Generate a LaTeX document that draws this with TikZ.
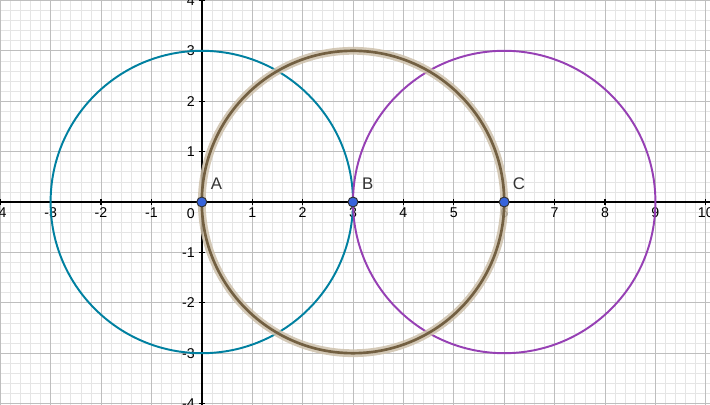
\documentclass[tikz,border=0pt]{standalone}
\usepackage{fontspec}
\setmainfont{Liberation Sans}
\usetikzlibrary{positioning}
\usepackage{xcolor}

\definecolor{gridminor}{RGB}{229,229,229}
\definecolor{gridmajor}{RGB}{190,190,190}
\definecolor{circteal}{RGB}{0,128,160}
\definecolor{circpurple}{RGB}{150,64,180}
\definecolor{circbrown}{RGB}{115,96,66}
\definecolor{circhalo}{RGB}{205,192,170}
\definecolor{ptblue}{RGB}{55,100,220}

\begin{document}
\begin{tikzpicture}[x=1cm, y=1cm, font=\fontsize{8}{9}\selectfont]
\tikzset{
  pt/.style={circle, draw=black!80, line width=0.55pt, fill=ptblue, inner sep=0pt, minimum size=5.6pt},
  ptlabel/.style={font=\fontsize{9.5}{11}\selectfont, text=black!80},
  ticklab/.style={inner sep=1pt, text=black}
}
\useasboundingbox (-4.004,-4.008) rectangle (10.083,4.008);
\clip (-4.004,-4.008) rectangle (10.083,4.008);

% Grid
\draw[gridminor, line width=0.35pt, step=0.2] (-4.2,-4.2) grid (10.2,4.2);
\draw[gridmajor, line width=0.45pt, step=1] (-4.2,-4.2) grid (10.2,4.2);

% Axes
\draw[black, line width=0.8pt] (-4.1,0) -- (10.2,0);
\draw[black, line width=0.8pt] (0,-4.1) -- (0,4.1);

% x ticks and labels
\foreach \x in {-4,-3,-2,-1,1,2,3,4,5,6,7,8,9,10} {
    \draw[black, line width=0.6pt] (\x,-0.06) -- (\x,0.06);
    \node[ticklab, below] (xl\x) at (\x,-0.07) {\x};
}
% y ticks and labels
\foreach \y in {-4,-3,-2,-1,1,2,3,4} {
    \draw[black, line width=0.6pt] (-0.06,\y) -- (0.06,\y);
    \node[ticklab, left] (yl\y) at (-0.1,\y) {\y};
}
\node[ticklab] (origin) at (-0.22,-0.24) {0};

% Points
\coordinate (A) at (0,0);
\coordinate (B) at (3,0);
\coordinate (C) at (6,0);

% Circles
\draw[circteal, line width=1.1pt] (A) circle[radius=3];
\draw[circpurple, line width=1.1pt] (C) circle[radius=3];
\draw[circhalo, opacity=0.85, line width=4.4pt] (B) circle[radius=3];
\draw[circbrown, line width=1.5pt] (B) circle[radius=3];

% Point markers and labels
\node[pt] (pA) at (A) {};
\node[pt] (pB) at (B) {};
\node[pt] (pC) at (C) {};
\node[ptlabel] (lA) at (0.29,0.36) {A};
\node[ptlabel] (lB) at (3.29,0.36) {B};
\node[ptlabel] (lC) at (6.29,0.36) {C};

\end{tikzpicture}
\end{document}
